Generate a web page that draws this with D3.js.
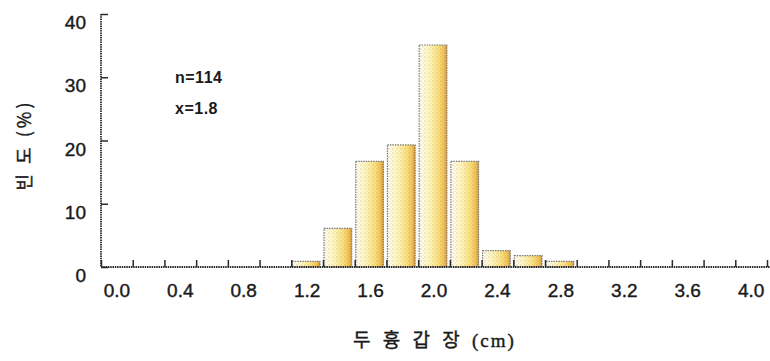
<!DOCTYPE html>
<html>
<head>
<meta charset="utf-8">
<script src="https://cdn.jsdelivr.net/npm/d3@7"></script>
<style>
  html, body { margin: 0; padding: 0; background: #fff; }
  svg { display: block; }
</style>
</head>
<body>
<script>
// ---- data ----
const binCenters = [1.2, 1.4, 1.6, 1.8, 2.0, 2.2, 2.4, 2.6, 2.8];
const frequencies = [0.9, 6.1, 16.7, 19.3, 35.1, 16.7, 2.6, 1.8, 0.9];
const xTickLabels = ["0.0", "0.4", "0.8", "1.2", "1.6", "2.0", "2.4", "2.8", "3.2", "3.6", "4.0"];
const xTickValues = [0.0, 0.4, 0.8, 1.2, 1.6, 2.0, 2.4, 2.8, 3.2, 3.6, 4.0];
const yTickValues = [0, 10, 20, 30, 40];
const annotations = ["n=114", "x=1.8"];
const xTitle = ["두 흉 갑 장 ", "(cm)"];
const yTitle = "빈 도 (%)";
const binWidth = 0.2;

const W = 770, H = 361;
const svg = d3.select("body").append("svg").attr("width", W).attr("height", H);

const x = d3.scaleLinear().domain([-0.1, 4.1]).range([101, 767]);
const y = d3.scaleLinear().domain([0, 40]).range([267, 14]);

// defs: gradient + dot pattern
const defs = svg.append("defs");
const grad = defs.append("linearGradient").attr("id", "barGrad")
  .attr("x1", "0%").attr("x2", "100%").attr("y1", "0%").attr("y2", "0%");
[["0%", "#fffef0"], ["35%", "#fff8c0"], ["70%", "#fbe07a"], ["90%", "#f0c050"], ["100%", "#d8962e"]]
  .forEach(([o, c]) => grad.append("stop").attr("offset", o).attr("stop-color", c));
const pat = defs.append("pattern").attr("id", "dots").attr("patternUnits", "userSpaceOnUse")
  .attr("width", 4).attr("height", 4);
pat.append("circle").attr("cx", 1).attr("cy", 1).attr("r", 0.7).attr("fill", "#d09070").attr("opacity", 0.55);
pat.append("circle").attr("cx", 3).attr("cy", 3).attr("r", 0.6).attr("fill", "#a0a0a0").attr("opacity", 0.45);

// bars
const bars = svg.append("g");
const bw = x(binWidth) - x(0);
binCenters.forEach((c, i) => {
  const x0 = x(c - binWidth / 2) + 1;
  const w = bw - 4;
  const yt = y(frequencies[i]);
  const h = y(0) - yt;
  bars.append("rect").attr("x", x0).attr("y", yt).attr("width", w).attr("height", h)
    .attr("fill", "url(#barGrad)");
  bars.append("rect").attr("x", x0).attr("y", yt).attr("width", w).attr("height", h)
    .attr("fill", "url(#dots)")
    .attr("stroke", "#7a7a7a").attr("stroke-width", 1.2).attr("stroke-dasharray", "1.5,1");
});

const axisColor = "#2a2a2a";
const textColor = "#1a1a1a";
// y axis
const yAxis = d3.axisRight(y).tickValues(yTickValues).tickSize(7).tickFormat("");
const gy = svg.append("g").attr("transform", `translate(${x(-0.1)},0)`).call(yAxis);
gy.select(".domain").attr("d", `M0,${y(40)}V${y(0)}`).attr("stroke", axisColor)
  .attr("stroke-width", 1.8).attr("stroke-dasharray", "1.5,0.8");
gy.selectAll(".tick line").attr("stroke", axisColor).attr("stroke-width", 1.5);
svg.append("g").selectAll("text").data(yTickValues).join("text")
  .attr("x", 86).attr("y", d => y(d) + 8.5)
  .attr("dy", "0.35em").attr("text-anchor", "end")
  .attr("font-family", "Liberation Sans, Arial, sans-serif").attr("font-size", 19)
  .attr("fill", textColor).attr("stroke", textColor).attr("stroke-width", 0.4).text(d => d);

// x axis
const edges = d3.range(22).map(i => -0.1 + i * binWidth);
const xAxis = d3.axisTop(x).tickValues(edges).tickSize(7).tickFormat("");
const gx = svg.append("g").attr("transform", `translate(0,${y(0)})`).call(xAxis);
gx.select(".domain").attr("d", `M${x(-0.1)},0H770`).attr("stroke", axisColor)
  .attr("stroke-width", 1.8).attr("stroke-dasharray", "1.5,0.8");
gx.selectAll(".tick line").attr("stroke", axisColor).attr("stroke-width", 1.5);
svg.append("g").selectAll("text").data(xTickValues).join("text")
  .attr("x", d => x(d)).attr("y", 290).attr("dy", "0.35em").attr("text-anchor", "middle")
  .attr("font-family", "Liberation Sans, Arial, sans-serif").attr("font-size", 19)
  .attr("fill", textColor).attr("stroke", textColor).attr("stroke-width", 0.4)
  .text((d, i) => xTickLabels[i]);

// annotations
svg.append("g").selectAll("text").data(annotations).join("text")
  .attr("x", 175).attr("y", (d, i) => 77 + i * 31).attr("dy", "0.35em")
  .attr("font-family", "Liberation Sans, Arial, sans-serif").attr("font-size", 16)
  .attr("font-weight", "bold").attr("letter-spacing", 0.5)
  .attr("fill", textColor).text(d => d);

// x title
const xt = svg.append("text").attr("x", 353).attr("y", 340).attr("dy", "0.35em")
  .attr("font-size", 19).attr("fill", textColor).attr("letter-spacing", 4)
  .attr("stroke", textColor).attr("stroke-width", 0.4);
xt.append("tspan").attr("font-family", "Noto Sans CJK KR, sans-serif").text(xTitle[0]);
xt.append("tspan").attr("font-family", "Liberation Serif, serif").attr("letter-spacing", 2).text(xTitle[1]);

// y title
svg.append("text").attr("transform", "translate(25,145) rotate(-90)")
  .attr("text-anchor", "middle").attr("dy", "0.35em")
  .attr("font-family", "Noto Sans CJK KR, sans-serif").attr("font-size", 18)
  .attr("letter-spacing", 3).attr("fill", textColor)
  .attr("stroke", textColor).attr("stroke-width", 0.4).text(yTitle);
</script>
</body>
</html>
